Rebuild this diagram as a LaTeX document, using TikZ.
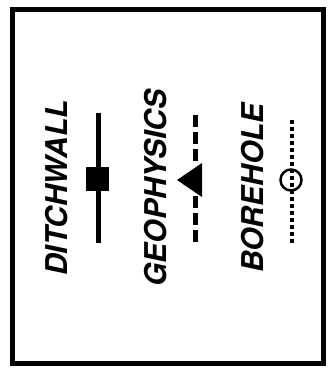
\documentclass[tikz,border=0pt]{standalone}
\usepackage{fontspec}
\setmainfont{TeX Gyre Heros}
\begin{document}
\begin{tikzpicture}[x=1pt,y=-1pt,
  frame/.style={line width=5pt},
  legendtext/.style={font=\fontsize{30}{32}\selectfont\bfseries\itshape,
    rotate=90, inner sep=0pt},
  solidline/.style={line width=5pt},
  dashline/.style={line width=5pt, dash pattern=on 12pt off 5pt},
  dotline/.style={line width=3.8pt, dash pattern=on 4pt off 3pt},
  squaremark/.style={fill=black, minimum width=23pt, minimum height=24pt,
    inner sep=0pt},
  circlemark/.style={draw, circle, line width=2.5pt, minimum size=21pt,
    inner sep=0pt},
]
\useasboundingbox (0,0) rectangle (327,372);
% outer frame
\draw[frame] (12.5,9) rectangle (323.5,363.5);

% ditch wall: solid line with a square
\node[legendtext] (ditchwall) at (57,188) {DITCHWALL};
\coordinate (dwtop) at (98,113);
\coordinate (dwbot) at (98,243);
\draw[solidline] (dwtop) -- (dwbot);
\node[squaremark] (dwmark) at (97.5,179) {};

% geophysics: dashed line with a triangle
\node[legendtext] (geophysics) at (156,188) {GEOPHYSICS};
\coordinate (gptop) at (195,115);
\coordinate (gpupper) at (195,163);
\coordinate (gplower) at (195,196);
\coordinate (gpbot) at (195,243);
\coordinate (gpapex) at (177,180);
\coordinate (gpbasetop) at (202,163);
\coordinate (gpbasebot) at (202,197);
\draw[dashline] (gptop) -- (gpupper);
\draw[dashline] (gplower) -- (gpbot);
\fill (gpapex) -- (gpbasetop) -- (gpbasebot) -- cycle;

% borehole: dotted line with a circle
\node[legendtext] (borehole) at (253,188) {BOREHOLE};
\coordinate (bhtop) at (292,120);
\coordinate (bhbot) at (292,243);
\draw[dotline] (bhtop) -- (bhbot);
\node[circlemark] (bhmark) at (291,180) {};
\end{tikzpicture}
\end{document}
